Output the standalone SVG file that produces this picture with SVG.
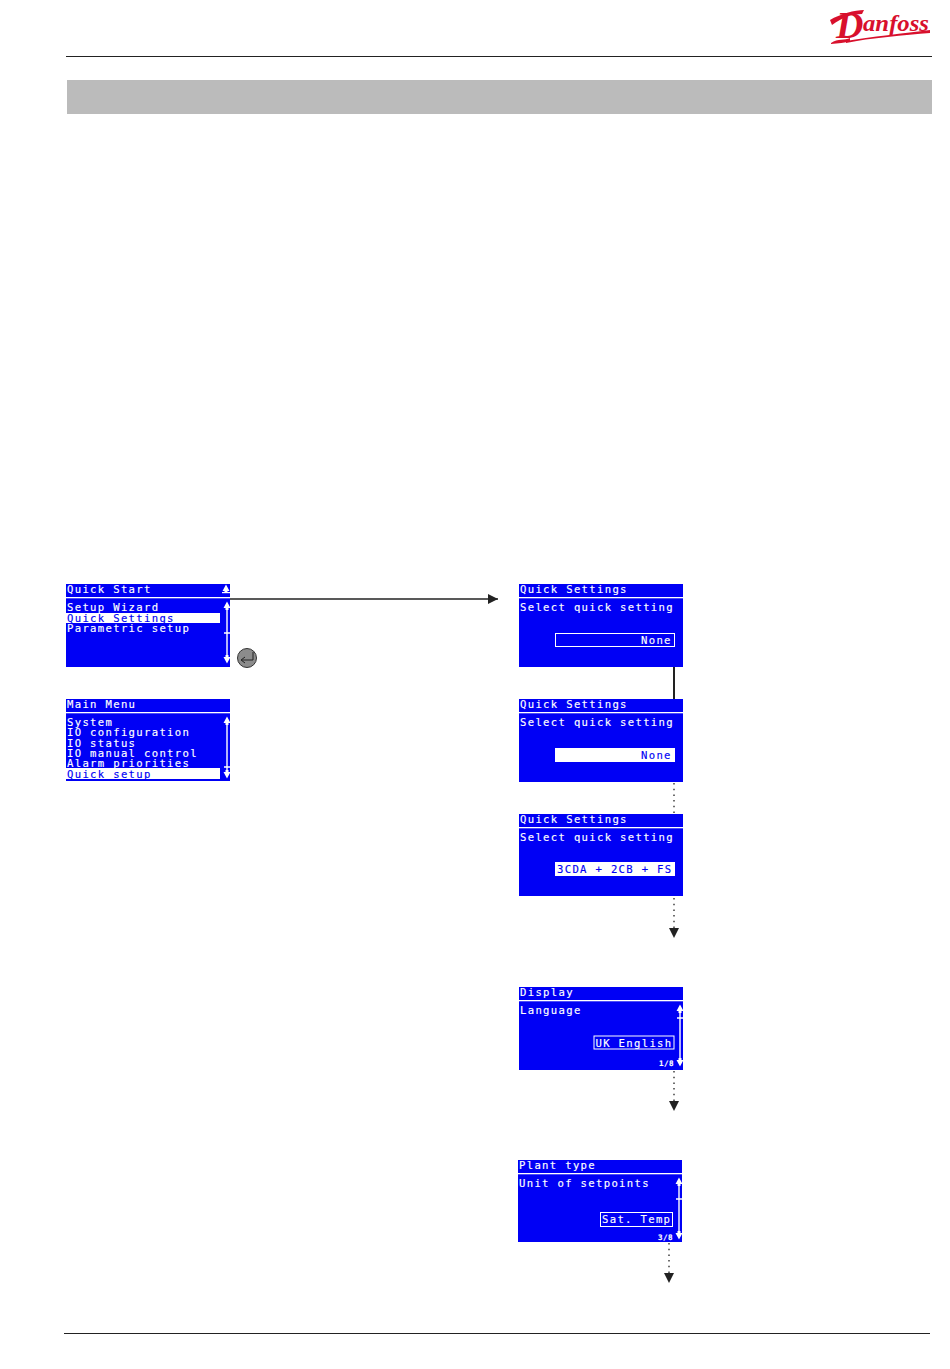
<svg xmlns="http://www.w3.org/2000/svg" width="950" height="1369" viewBox="0 0 950 1369">
<style>
.s{fill:#0000f5}
.w{fill:#fff}
.t{font-family:"DejaVu Sans Mono","Liberation Mono",monospace;font-size:10.6px;letter-spacing:1.32px;fill:#fff;stroke:#fff;stroke-width:.15}
.b{fill:#0000f5;stroke:#0000f5}
.m{font-size:7.5px;letter-spacing:.5px;font-weight:bold}
.sb{stroke:#fff;stroke-width:1.4;fill:none}
.c{fill:none;stroke:#222}
.d{stroke-width:1.3;stroke-dasharray:1.5 4.2}
</style>
<defs>
<marker id="ah" markerUnits="userSpaceOnUse" markerWidth="12" markerHeight="12" refX="10" refY="6" orient="auto"><path d="M0 1L10 6L0 11Z" fill="#222"/></marker>
<path id="sc" class="w" d="M0 -4.5L3.5 2H1.5V4H-1.5V2H-3.5Z"/>
<path id="sd" class="w" d="M0 4.5L3.5 -2H1.5V-4H-1.5V-2H-3.5Z"/>
</defs>
<rect width="950" height="1369" fill="#fff"/>
<g id="header">
<rect x="66" y="56" width="866" height="1" fill="#222"/>
<rect x="67" y="80" width="865" height="34" fill="#bbb"/>
<rect x="64" y="1333" width="866" height="1" fill="#222"/>
</g>
<g id="logo" fill="#d8102c">
<path d="M830 20C840 14 855 10 864 10L862 14C852 14 843 17 832 25Z"/>
<path d="M846 41C870 37 905 33 930 30L930 33C905 35 870 38 846 43Z"/>
<path d="M831 43C838 38 845 41 850 38L850 41C845 43 838 43 831 44Z"/>
<text font-family="Liberation Serif,serif" font-style="italic" font-weight="bold" fill="#d8102c"><tspan x="836" y="38" font-size="38">D</tspan><tspan x="863" y="31" font-size="23" textLength="66" lengthAdjust="spacingAndGlyphs">anfoss</tspan></text>
</g>
<g id="connectors">
<path class="c" d="M230 599H498" marker-end="url(#ah)" style="stroke-width:1.6"/>
<path class="c" style="stroke-width:2" d="M674 667V699"/>
<path class="c d" d="M674 783V814"/>
<path class="c d" d="M674 898V938" marker-end="url(#ah)"/>
<path class="c d" d="M674 1071V1111" marker-end="url(#ah)"/>
<path class="c d" d="M669 1243V1283" marker-end="url(#ah)"/>
</g>
<g id="quick-start">
<rect class="s" x="66" y="584" width="164" height="83"/>
<rect class="w" x="66" y="597" width="164" height="1.3"/>
<text class="t" x="67" y="593">Quick Start</text>
<use href="#sc" x="226" y="589"/><rect class="w" x="222" y="592" width="8" height="1.2"/>
<rect class="w" x="66" y="613" width="154" height="10"/>
<text class="t" x="67" y="611">Setup Wizard</text>
<text class="t b" x="67" y="622">Quick Settings</text>
<text class="t" x="67" y="632">Parametric setup</text>
<path class="sb" d="M227 605V660M224 633H230"/>
<use href="#sc" x="227" y="606"/><use href="#sd" x="227" y="659"/>
</g>
<g id="enter-button">
<circle cx="247" cy="658" r="9.5" fill="#8c8c8c" stroke="#333"/>
<path d="M253 652V660H242M245 657L241 660L245 663" fill="none" stroke="#222"/>
</g>
<g id="main-menu">
<rect class="s" x="66" y="699" width="164" height="82"/>
<rect class="w" x="66" y="712" width="164" height="1.3"/>
<text class="t" x="67" y="708">Main Menu</text>
<rect class="w" x="66" y="768" width="154" height="11"/>
<text class="t" x="67" y="726">System</text>
<text class="t" x="67" y="736">IO configuration</text>
<text class="t" x="67" y="746.5">IO status</text>
<text class="t" x="67" y="757">IO manual control</text>
<text class="t" x="67" y="767">Alarm priorities</text>
<text class="t b" x="67" y="777.5">Quick setup</text>
<path class="sb" d="M227 720V775M224 767H230"/>
<use href="#sc" x="227" y="721"/><use href="#sd" x="227" y="774"/>
</g>
<g id="quick-settings-1">
<rect class="s" x="519" y="584" width="164" height="83"/>
<rect class="w" x="519" y="597" width="164" height="1.3"/>
<text class="t" x="520" y="593">Quick Settings</text>
<text class="t" x="520" y="611">Select quick setting</text>
<rect x="555.5" y="633.5" width="119" height="13" fill="none" stroke="#fff"/>
<text class="t" x="641" y="643.5">None</text>
</g>
<g id="quick-settings-2">
<rect class="s" x="519" y="699" width="164" height="83"/>
<rect class="w" x="519" y="712" width="164" height="1.3"/>
<text class="t" x="520" y="708">Quick Settings</text>
<text class="t" x="520" y="726">Select quick setting</text>
<rect class="w" x="555" y="748" width="120" height="14"/>
<text class="t b" x="641" y="758.5">None</text>
</g>
<g id="quick-settings-3">
<rect class="s" x="519" y="814" width="164" height="82"/>
<rect class="w" x="519" y="827" width="164" height="1.3"/>
<text class="t" x="520" y="823">Quick Settings</text>
<text class="t" x="520" y="841">Select quick setting</text>
<rect class="w" x="555" y="862" width="120" height="14"/>
<text class="t b" x="557" y="873">3CDA + 2CB + FS</text>
</g>
<g id="display">
<rect class="s" x="519" y="987" width="164" height="83"/>
<rect class="w" x="519" y="1000" width="164" height="1.3"/>
<text class="t" x="520" y="996">Display</text>
<text class="t" x="520" y="1014">Language</text>
<rect x="594" y="1036" width="80" height="13" fill="none" stroke="#fff"/>
<text class="t" x="595.5" y="1046.5">UK English</text>
<text class="t m" x="659" y="1066">1/8</text>
<path class="sb" d="M680 1008V1063M677 1018H683"/>
<use href="#sc" x="680" y="1009"/><use href="#sd" x="680" y="1062"/>
</g>
<g id="plant-type">
<rect class="s" x="518" y="1160" width="164" height="82"/>
<rect class="w" x="518" y="1173" width="164" height="1.3"/>
<text class="t" x="519" y="1169">Plant type</text>
<text class="t" x="519" y="1187">Unit of setpoints</text>
<rect x="600.5" y="1212.5" width="72" height="14" fill="none" stroke="#fff"/>
<text class="t" x="602" y="1223">Sat. Temp</text>
<text class="t m" x="658" y="1240">3/8</text>
<path class="sb" d="M679 1181V1236M676 1199H682"/>
<use href="#sc" x="679" y="1182"/><use href="#sd" x="679" y="1235"/>
</g>
</svg>
